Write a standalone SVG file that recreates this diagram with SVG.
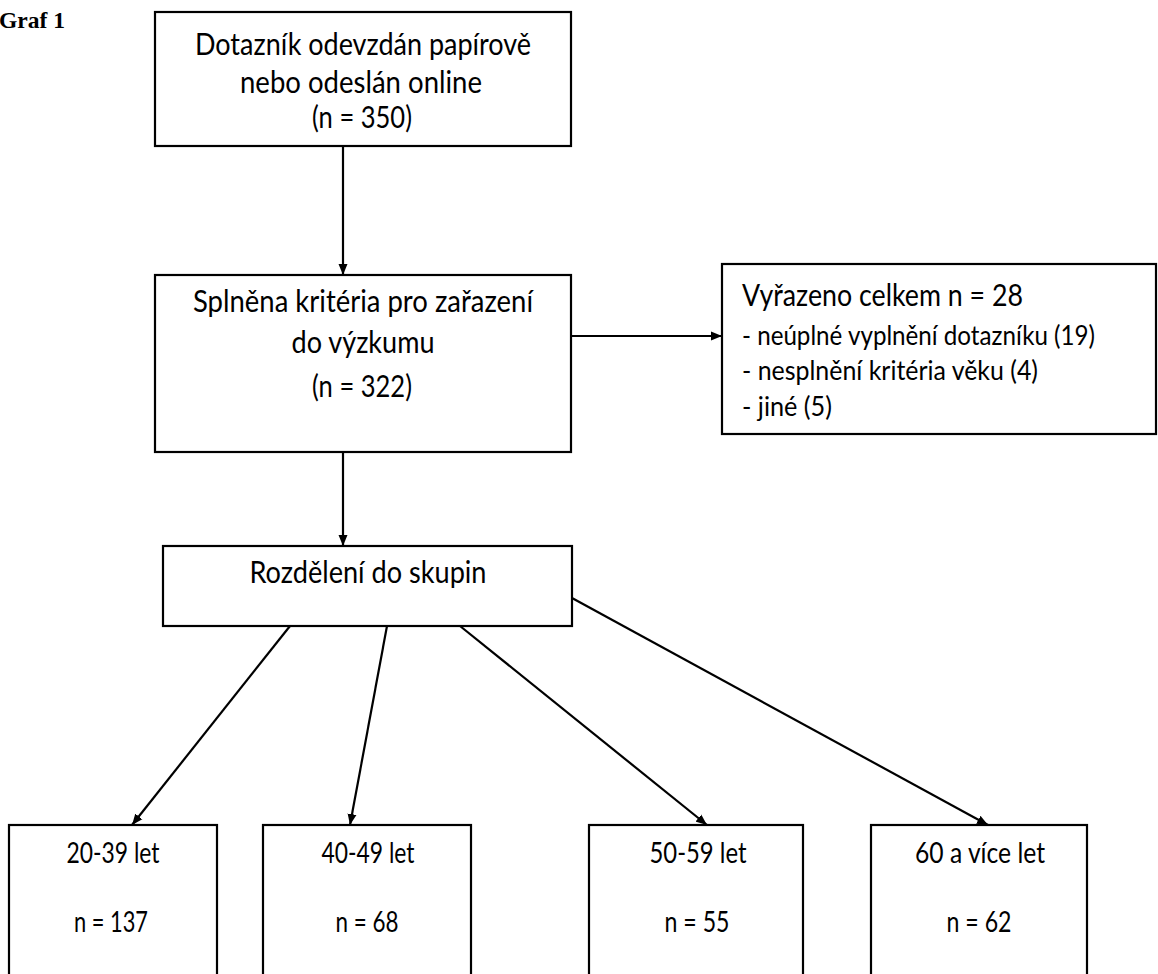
<svg xmlns="http://www.w3.org/2000/svg" width="1158" height="974" viewBox="0 0 1158 974">
<style>
.box{fill:#fff;stroke:#000;stroke-width:2.2}
.t{font-family:Lato,"Open Sans","Liberation Sans",sans-serif;fill:#000}
.c{text-anchor:middle}
.big{font-size:31px}
.mid{font-size:28px}
.sm{font-size:26px}
.con line{stroke:#000;stroke-width:2.2}
</style>
<defs>
<marker id="ah" markerUnits="userSpaceOnUse" markerWidth="12" markerHeight="10" refX="11" refY="5" orient="auto">
<path d="M0,0.5 L11,5 L0,9.5 z" fill="#000"/>
</marker>
</defs>
<rect width="1158" height="974" fill="#fff"/>
<text x="-1" y="28" font-family="'Liberation Serif',serif" font-weight="bold" font-size="23" textLength="66" lengthAdjust="spacingAndGlyphs">Graf 1</text>

<g class="con">
<line x1="343" y1="146" x2="343" y2="275" marker-end="url(#ah)"/>
<line x1="571" y1="336" x2="722" y2="336" marker-end="url(#ah)"/>
<line x1="343" y1="452" x2="343" y2="546" marker-end="url(#ah)"/>
<line x1="290" y1="626" x2="132" y2="825" marker-end="url(#ah)"/>
<line x1="387" y1="626" x2="350" y2="825" marker-end="url(#ah)"/>
<line x1="460" y1="626" x2="707" y2="825" marker-end="url(#ah)"/>
<line x1="572" y1="598" x2="988" y2="825" marker-end="url(#ah)"/>
</g>

<g id="n1">
<rect class="box" x="155" y="12" width="416" height="134"/>
<text class="t c big" x="363" y="55" textLength="336" lengthAdjust="spacingAndGlyphs">Dotazník odevzdán papírově</text>
<text class="t c big" x="361" y="93" textLength="242" lengthAdjust="spacingAndGlyphs">nebo odeslán online</text>
<text class="t c big" x="362" y="128" textLength="100" lengthAdjust="spacingAndGlyphs">(n = 350)</text>
</g>

<g id="n2">
<rect class="box" x="155" y="275" width="416" height="177"/>
<text class="t c big" x="363" y="312" textLength="340" lengthAdjust="spacingAndGlyphs">Splněna kritéria pro zařazení</text>
<text class="t c big" x="363" y="353" textLength="143" lengthAdjust="spacingAndGlyphs">do výzkumu</text>
<text class="t c big" x="362" y="397" textLength="100" lengthAdjust="spacingAndGlyphs">(n = 322)</text>
</g>

<g id="n3">
<rect class="box" x="722" y="264" width="434" height="170"/>
<text class="t big" x="742" y="306" textLength="281" lengthAdjust="spacingAndGlyphs">Vyřazeno celkem n = 28</text>
<text class="t sm" x="742" y="345" textLength="353" lengthAdjust="spacingAndGlyphs">- neúplné vyplnění dotazníku (19)</text>
<text class="t sm" x="742" y="380" textLength="296" lengthAdjust="spacingAndGlyphs">- nesplnění kritéria věku (4)</text>
<text class="t sm" x="742" y="416" textLength="90" lengthAdjust="spacingAndGlyphs">- jiné (5)</text>
</g>

<g id="n4">
<rect class="box" x="163" y="546" width="409" height="80"/>
<text class="t c big" x="368" y="583" textLength="237" lengthAdjust="spacingAndGlyphs">Rozdělení do skupin</text>
</g>

<g id="n5">
<rect class="box" x="9" y="825" width="208" height="160"/>
<text class="t c mid" x="113" y="863" textLength="93" lengthAdjust="spacingAndGlyphs">20-39 let</text>
<text class="t c mid" x="111" y="932" textLength="74" lengthAdjust="spacingAndGlyphs">n = 137</text>
</g>

<g id="n6">
<rect class="box" x="263" y="825" width="208" height="160"/>
<text class="t c mid" x="368" y="863" textLength="93" lengthAdjust="spacingAndGlyphs">40-49 let</text>
<text class="t c mid" x="367" y="932" textLength="63" lengthAdjust="spacingAndGlyphs">n = 68</text>
</g>

<g id="n7">
<rect class="box" x="589" y="825" width="214" height="160"/>
<text class="t c mid" x="698" y="863" textLength="97" lengthAdjust="spacingAndGlyphs">50-59 let</text>
<text class="t c mid" x="697" y="932" textLength="65" lengthAdjust="spacingAndGlyphs">n = 55</text>
</g>

<g id="n8">
<rect class="box" x="871" y="825" width="216" height="160"/>
<text class="t c mid" x="980" y="863" textLength="130" lengthAdjust="spacingAndGlyphs">60 a více let</text>
<text class="t c mid" x="979" y="932" textLength="65" lengthAdjust="spacingAndGlyphs">n = 62</text>
</g>
</svg>
